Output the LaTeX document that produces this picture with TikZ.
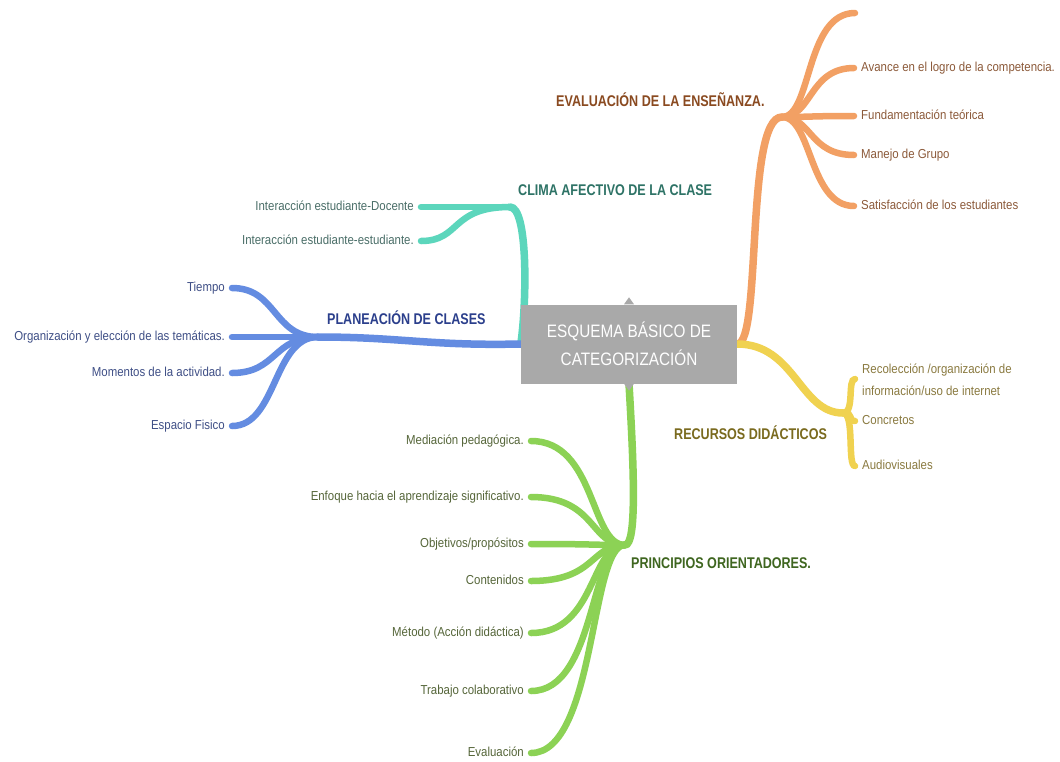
\documentclass[tikz,border=0pt]{standalone}
\usepackage{fontspec}
\setmainfont{Liberation Sans}
\newfontfamily\leaffont[FakeStretch=0.88]{Liberation Sans}
\newfontfamily\headfont[FakeStretch=0.81]{Liberation Sans}
\newfontfamily\centerfont[FakeStretch=0.85]{Liberation Sans}
\usetikzlibrary{backgrounds}
\definecolor{lteal}{HTML}{5CD6BC}
\definecolor{lblue}{HTML}{648CE1}
\definecolor{lorange}{HTML}{F2A064}
\definecolor{lyellow}{HTML}{F0D250}
\definecolor{lgreen}{HTML}{8CD255}
\definecolor{boxgray}{HTML}{A9A9A9}
\definecolor{hteal}{HTML}{2E7366}
\definecolor{tteal}{HTML}{4A6E68}
\definecolor{hblue}{HTML}{2B3F8C}
\definecolor{tblue}{HTML}{3F4F86}
\definecolor{horange}{HTML}{8A4A20}
\definecolor{torange}{HTML}{8C5A3A}
\definecolor{hyellow}{HTML}{7A6A1E}
\definecolor{tyellow}{HTML}{8A7A40}
\definecolor{hgreen}{HTML}{3F6620}
\definecolor{tgreen}{HTML}{56663A}
\begin{document}
\begin{tikzpicture}[x=1pt,y=-1pt,
  leaf/.style={font=\leaffont\fontsize{13}{15}\selectfont, inner sep=0pt, text height=9pt, text depth=3pt},
  head/.style={font=\headfont\bfseries\fontsize{15.5}{18}\selectfont, inner sep=0pt},
  conn/.style={line width=6.5pt, line cap=round},
  trunk/.style={line width=7.5pt, line cap=round}]
\useasboundingbox (0,0) rectangle (1060,761);

% central node
\node[fill=boxgray, minimum width=216pt, minimum height=79pt, inner sep=0pt, text=white, align=center,
  font=\centerfont\fontsize{18}{28}\selectfont] (c) at (629,344) {ESQUEMA BÁSICO DE\\CATEGORIZACIÓN};
\fill[boxgray] ([xshift=-5pt]c.north) -- ([yshift=7pt]c.north) -- ([xshift=5pt]c.north) -- cycle;
\fill[boxgray] ([xshift=-5pt]c.south) -- ([yshift=-7pt]c.south) -- ([xshift=5pt]c.south) -- cycle;

% headings
\node[head, text=hteal, anchor=west] (clima) at (518,190) {CLIMA AFECTIVO DE LA CLASE};
\node[head, text=hblue, anchor=west] (plan) at (327,318) {PLANEACIÓN DE CLASES};
\node[head, text=horange, anchor=west] (eval) at (556,100) {EVALUACIÓN DE LA ENSEÑANZA.};
\node[head, text=hyellow, anchor=west] (rec) at (674,433) {RECURSOS DIDÁCTICOS};
\node[head, text=hgreen, anchor=west] (prin) at (631,563) {PRINCIPIOS ORIENTADORES.};

% fan origins
\coordinate (to) at (510,207);
\coordinate (bo) at (318,337);
\coordinate (eo) at (782,117);
\coordinate (yo) at (843,413);
\coordinate (go) at (625,545);

% teal leaves
\node[leaf, text=tteal, anchor=east] (t1) at (414,207) {Interacción estudiante-Docente};
\node[leaf, text=tteal, anchor=east] (t2) at (414,241) {Interacción estudiante-estudiante.};
% blue leaves
\node[leaf, text=tblue, anchor=east] (b1) at (225,288) {Tiempo};
\node[leaf, text=tblue, anchor=east] (b2) at (225,337) {Organización y elección de las temáticas.};
\node[leaf, text=tblue, anchor=east] (b3) at (225,373) {Momentos de la actividad.};
\node[leaf, text=tblue, anchor=east] (b4) at (225,426) {Espacio Fisico};
% orange leaves
\coordinate (o0) at (855,13);
\node[leaf, text=torange, anchor=west] (o1) at (861,68) {Avance en el logro de la competencia.};
\node[leaf, text=torange, anchor=west] (o2) at (861,116) {Fundamentación teórica};
\node[leaf, text=torange, anchor=west] (o3) at (861,155) {Manejo de Grupo};
\node[leaf, text=torange, anchor=west] (o4) at (861,206) {Satisfacción de los estudiantes};
% yellow leaves
\node[font=\leaffont\fontsize{13}{22}\selectfont, inner sep=0pt, text=tyellow, anchor=west, align=left] (y1) at (862,380) {Recolección /organización de\\información/uso de internet};
\node[leaf, text=tyellow, anchor=west] (y2) at (862,421) {Concretos};
\node[leaf, text=tyellow, anchor=west] (y3) at (862,466) {Audiovisuales};
% green leaves
\node[leaf, text=tgreen, anchor=east] (g1) at (524,441) {Mediación pedagógica.};
\node[leaf, text=tgreen, anchor=east] (g2) at (524,497) {Enfoque hacia el aprendizaje significativo.};
\node[leaf, text=tgreen, anchor=east] (g3) at (524,544) {Objetivos/propósitos};
\node[leaf, text=tgreen, anchor=east] (g4) at (524,581) {Contenidos};
\node[leaf, text=tgreen, anchor=east] (g5) at (524,633) {Método (Acción didáctica)};
\node[leaf, text=tgreen, anchor=east] (g6) at (524,691) {Trabajo colaborativo};
\node[leaf, text=tgreen, anchor=east] (g7) at (524,753) {Evaluación};

\begin{scope}[on background layer]
\fill[white] (0,0) rectangle (1060,761);
% trunks
\draw[trunk, lteal] (c.west) .. controls (527,300) and (528,207) .. (to);
\draw[trunk, lblue] (c.west) .. controls (430,346) and (400,337) .. (bo);
\draw[trunk, lorange] (c.east) .. controls (762,344) and (745,117) .. (eo);
\draw[trunk, lyellow] (c.east) .. controls (795,344) and (800,413) .. (yo);
\draw[trunk, lgreen] (c.south) .. controls (634,470) and (637,545) .. (go);
% teal
\draw[conn, lteal] (to) -- ([xshift=7pt]t1.east);
\draw[conn, lteal] (to) .. controls +(-60,0) and +(40,0) .. ([xshift=7pt]t2.east);
% blue
\foreach \n in {b1,b2,b3,b4}
  \draw[conn, lblue] (bo) .. controls +(-45,0) and +(45,0) .. ([xshift=7pt]\n.east);
% orange
\draw[conn, lorange] (eo) .. controls +(30,0) and +(-50,0) .. (o0);
\foreach \n in {o1,o2,o3,o4}
  \draw[conn, lorange] (eo) .. controls +(30,0) and +(-45,0) .. ([xshift=-7pt]\n.west);
% yellow
\draw[conn, lyellow] (yo) .. controls +(12,0) and +(-8,0) .. ([xshift=-7pt,yshift=1pt]y1.west);
\draw[conn, lyellow] (yo) .. controls +(12,0) and +(-8,0) .. ([xshift=-7pt]y2.west);
\draw[conn, lyellow] (yo) .. controls +(12,0) and +(-8,0) .. ([xshift=-7pt]y3.west);
% green
\foreach \n in {g1,g2,g3,g4,g5,g6,g7}
  \draw[conn, lgreen] (go) .. controls +(-35,0) and +(65,0) .. ([xshift=7pt]\n.east);
\end{scope}
\end{tikzpicture}
\end{document}
